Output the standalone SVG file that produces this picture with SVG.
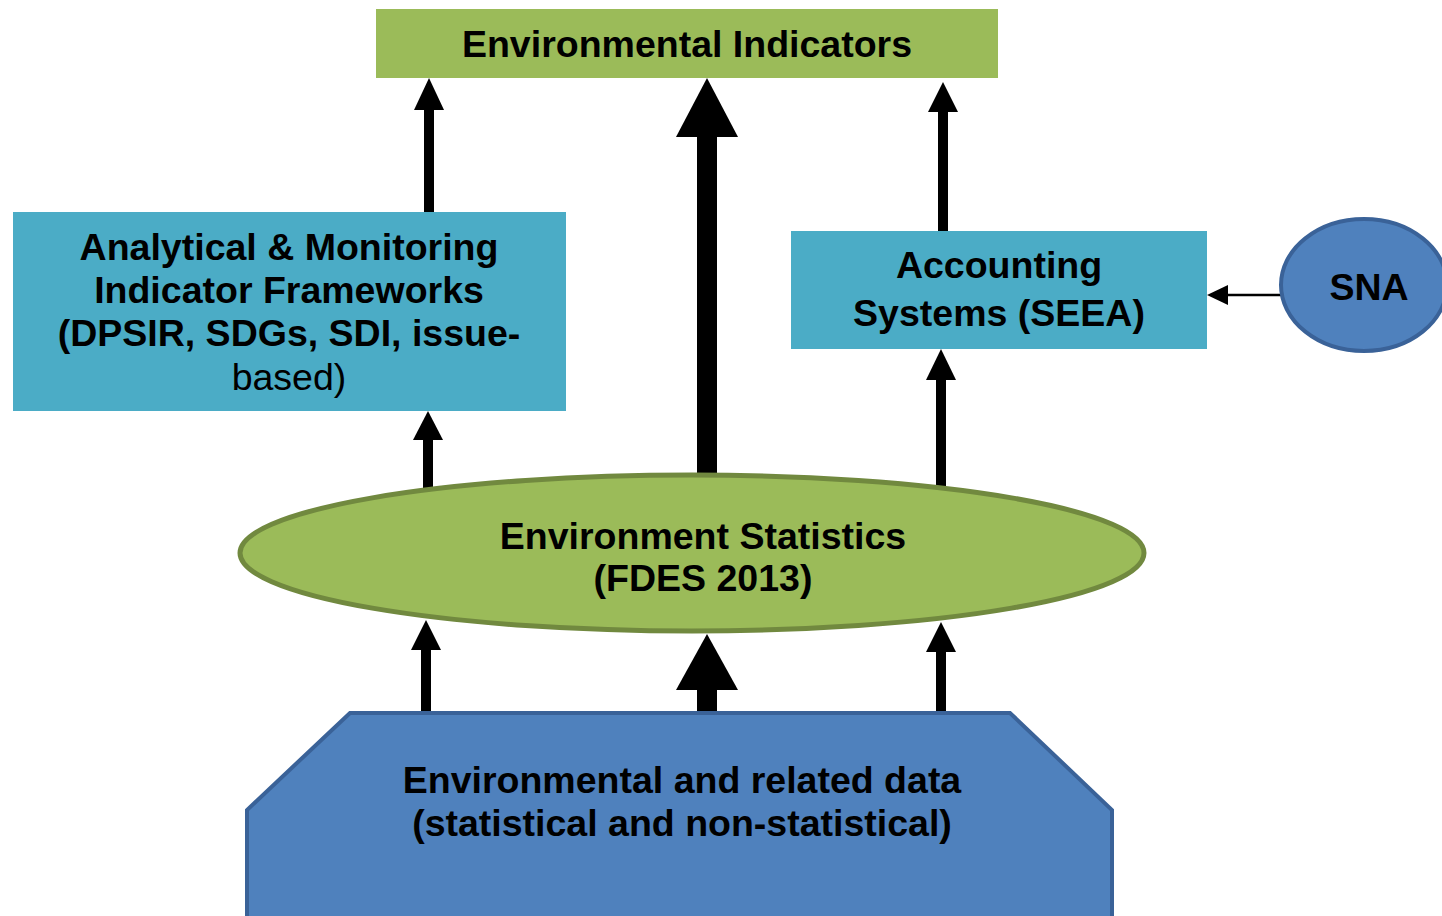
<svg xmlns="http://www.w3.org/2000/svg" width="1442" height="916" viewBox="0 0 1442 916">
<style>
text{font-family:"Liberation Sans",Arial,sans-serif;font-weight:bold;fill:#000;text-anchor:middle}
.t{font-size:37.5px}
.n{font-weight:normal}
.ar{fill:#000}
</style>
<rect width="1442" height="916" fill="#fff"/>
<g id="connectors">
<rect class="ar" x="424" y="108" width="10" height="104"/>
<polygon class="ar" points="429,78 444,110 414,110"/>
<rect class="ar" x="697" y="134" width="20" height="340"/>
<polygon class="ar" points="707,78 738,137 676,137"/>
<rect class="ar" x="938" y="110" width="10" height="121"/>
<polygon class="ar" points="943,82 958,112 928,112"/>
<rect class="ar" x="423" y="438" width="10" height="50"/>
<polygon class="ar" points="428,411 443,440 413,440"/>
<rect class="ar" x="936" y="378" width="10" height="108"/>
<polygon class="ar" points="941,349 956,380 926,380"/>
<rect class="ar" x="421" y="648" width="10" height="65"/>
<polygon class="ar" points="426,620 441,650 411,650"/>
<rect class="ar" x="697" y="688" width="20" height="25"/>
<polygon class="ar" points="707,634 738,690 676,690"/>
<rect class="ar" x="936" y="650" width="10" height="63"/>
<polygon class="ar" points="941,622 956,652 926,652"/>
<line x1="1281" y1="295" x2="1225" y2="295" stroke="#000" stroke-width="2.5"/>
<polygon class="ar" points="1207,295 1228,285 1228,305"/>
</g>
<g id="indicators">
<rect x="376" y="9" width="622" height="69" fill="#9bbb59"/>
<text class="t" x="687" y="57">Environmental Indicators</text>
</g>
<g id="frameworks">
<rect x="13" y="212" width="553" height="199" fill="#4bacc6"/>
<text class="t" x="289" y="260">Analytical &amp; Monitoring</text>
<text class="t" x="289" y="303">Indicator Frameworks</text>
<text class="t" x="289" y="346">(DPSIR, SDGs, SDI, issue-</text>
<text class="t n" x="289" y="390">based)</text>
</g>
<g id="accounting">
<rect x="791" y="231" width="416" height="118" fill="#4bacc6"/>
<text class="t" x="999" y="278">Accounting</text>
<text class="t" x="999" y="326">Systems (SEEA)</text>
</g>
<g id="sna">
<ellipse cx="1364" cy="285" rx="83" ry="66" fill="#4f81bd" stroke="#3a6298" stroke-width="4"/>
<text class="t" x="1369" y="300">SNA</text>
</g>
<g id="statistics">
<ellipse cx="692" cy="553" rx="452" ry="78" fill="#9bbb59" stroke="#71893f" stroke-width="5"/>
<text class="t" x="703" y="549">Environment Statistics</text>
<text class="t" x="703" y="591">(FDES 2013)</text>
</g>
<g id="data">
<polygon points="350,713 1010,713 1112,810 1112,918 247,918 247,810" fill="#4f81bd" stroke="#3a6298" stroke-width="4"/>
<text class="t" x="682" y="793">Environmental and related data</text>
<text class="t" x="682" y="836">(statistical and non-statistical)</text>
</g>
</svg>
